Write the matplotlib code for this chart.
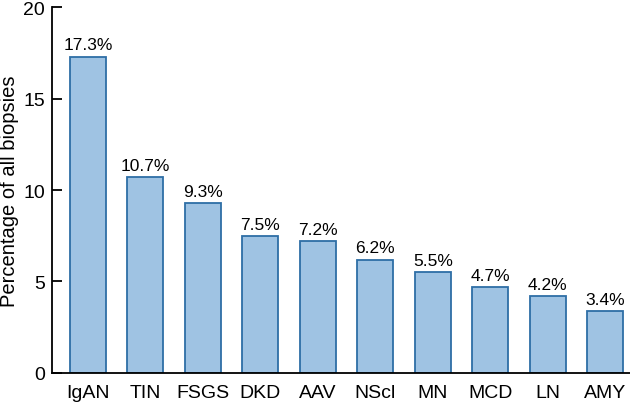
import matplotlib
matplotlib.use("Agg")
import matplotlib.pyplot as plt

categories = ["IgAN", "TIN", "FSGS", "DKD", "AAV", "NScl", "MN", "MCD", "LN", "AMY"]
values = [17.3, 10.7, 9.3, 7.5, 7.2, 6.2, 5.5, 4.7, 4.2, 3.4]
yticks = [0, 5, 10, 15, 20]

plt.rcParams['font.family'] = ['Liberation Sans', 'DejaVu Sans']

fig = plt.figure(figsize=(6.3, 4.06), dpi=100)
ax = fig.add_axes([0.0825, 0.079, 0.9175, 0.901])
x = list(range(len(categories)))
ax.bar(x, values, width=0.626, color="#9fc3e3", edgecolor="#2e6ea6", linewidth=1.3)
for xi, v in zip(x, values):
    ax.annotate(f"{v}%", (xi, v), xytext=(0, 3), textcoords="offset points",
                ha="center", va="bottom", fontsize=12.5)
ax.set_xlim(-0.626, 9.43)
ax.set_ylim(0, 20)
ax.set_yticks(yticks)
ax.set_xticks(x)
ax.set_xticklabels(categories)
ax.tick_params(axis='x', length=0, labelsize=14, pad=8)
ax.tick_params(axis='y', direction='in', length=7.5, width=1.3, labelsize=14, pad=5)
ax.set_ylabel("Percentage of all biopsies", fontsize=14.5, labelpad=3)
for s in ["top", "right"]:
    ax.spines[s].set_visible(False)
for s in ["left", "bottom"]:
    ax.spines[s].set_linewidth(1.3)
fig.savefig("out.png", dpi=100)
